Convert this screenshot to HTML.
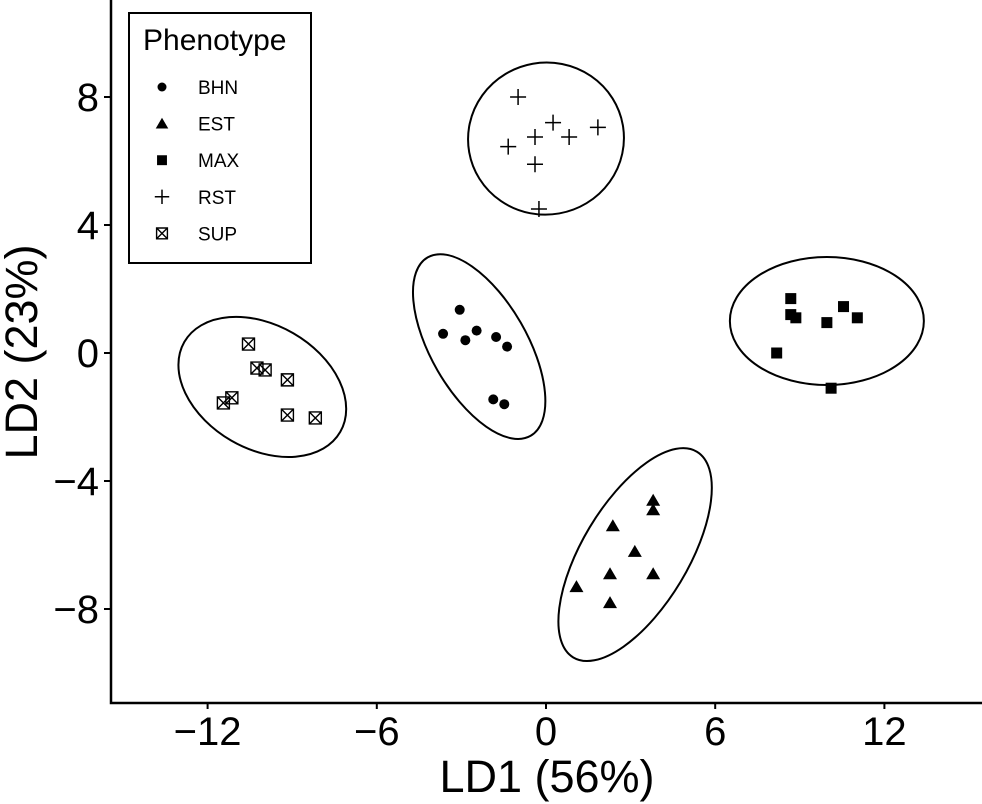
<!DOCTYPE html>
<html><head><meta charset="utf-8"><style>body{margin:0;background:#fff}svg{display:block;font-family:"Liberation Sans",sans-serif}</style></head>
<body>
<svg id="c" width="982" height="804" xmlns="http://www.w3.org/2000/svg"></svg>
<script>
const groups=["BHN","EST","MAX","RST","SUP"];
const bhnX=[-3.06,-3.65,-2.86,-2.46,-1.77,-1.38,-1.87,-1.48];
const bhnY=[1.35,0.6,0.4,0.7,0.5,0.2,-1.45,-1.6];
const estX=[1.08,2.37,2.27,2.27,3.15,3.8,3.8,3.8];
const estY=[-7.3,-5.4,-6.9,-7.8,-6.2,-4.6,-4.9,-6.9];
const maxX=[8.18,8.68,8.68,8.86,9.96,10.55,11.04,10.11];
const maxY=[0.0,1.7,1.2,1.1,0.95,1.45,1.1,-1.1];
const rstX=[-0.99,-1.34,-0.39,-0.39,0.25,0.82,1.84,-0.25];
const rstY=[8.0,6.45,6.75,5.9,7.2,6.75,7.05,4.5];
const supX=[-10.55,-10.25,-9.96,-9.17,-11.14,-11.44,-9.17,-8.18];
const supY=[0.28,-0.47,-0.53,-0.84,-1.4,-1.56,-1.94,-2.03];
const ellCx=[-2.37,3.16,9.96,0,-10.06];
const ellCy=[0.2,-6.3,1.0,6.7,-1.06];
const ellRx=[103,120,97,78,90];
const ellRy=[48,53,64,76,62];
const ellAngle=[60,-59,0,-10,30];
const xTicks=[-12,-6,0,6,12];
const yTicks=[-8,-4,0,4,8];
const ns="http://www.w3.org/2000/svg",svg=document.getElementById('c');
const X=v=>546+v*28.2, Y=v=>353-v*32;
function mk(t,a,p){const e=document.createElementNS(ns,t);for(const k in a)e.setAttribute(k,a[k]);(p||svg).appendChild(e);return e;}
const seriesX=[bhnX,estX,maxX,rstX,supX],seriesY=[bhnY,estY,maxY,rstY,supY];
function sym(g,cx,cy,s,name){
  let e;
  if(g==0)e=mk('circle',{cx,cy,r:5*s,fill:'#000'});
  else if(g==1)e=mk('polygon',{points:`${cx},${cy-6.5*s} ${cx+7*s},${cy+5.5*s} ${cx-7*s},${cy+5.5*s}`,fill:'#000'});
  else if(g==2)e=mk('rect',{x:cx-5.5*s,y:cy-5.5*s,width:11*s,height:11*s,fill:'#000'});
  else if(g==3)e=mk('path',{d:`M${cx-8*s},${cy}H${cx+8*s}M${cx},${cy-8*s}V${cy+8*s}`,stroke:'#000','stroke-width':1.5,fill:'none'});
  else e=mk('path',{d:`M${cx-6*s},${cy-6*s}h${12*s}v${12*s}h${-12*s}zM${cx-6*s},${cy-6*s}l${12*s},${12*s}M${cx+6*s},${cy-6*s}l${-12*s},${12*s}`,stroke:'#000','stroke-width':1.4,fill:'none'});
  
  
}
groups.forEach((g,i)=>{
  const el=mk('ellipse',{cx:0,cy:0,rx:ellRx[i],ry:ellRy[i],fill:'none',stroke:'#000','stroke-width':2,transform:`translate(${X(ellCx[i])},${Y(ellCy[i])}) rotate(${ellAngle[i]})`});
  
  
  seriesX[i].forEach((v,j)=>sym(i,X(v),Y(seriesY[i][j]),1,'point-'+g.toLowerCase()));
});
let ax=mk('path',{d:'M111,0V703H982',stroke:'#000','stroke-width':2.5,fill:'none'});


xTicks.forEach(v=>{
  const t=mk('line',{x1:X(v),x2:X(v),y1:703,y2:709,stroke:'#000','stroke-width':2});
  
  
  const l=mk('text',{x:X(v),y:745,'text-anchor':'middle','font-size':40,fill:'#000'});l.textContent=(v<0?'\u2212':'')+Math.abs(v);
  
  
});
yTicks.forEach(v=>{
  const t=mk('line',{x1:104,x2:111,y1:Y(v),y2:Y(v),stroke:'#000','stroke-width':2});
  
  
  const l=mk('text',{x:99,y:Y(v)+14,'text-anchor':'end','font-size':40,fill:'#000'});l.textContent=(v<0?'\u2212':'')+Math.abs(v);
  
  
});
let xt=mk('text',{x:547,y:792,'text-anchor':'middle','font-size':45});xt.textContent='LD1 (56%)';


let yt=mk('text',{x:0,y:0,'text-anchor':'middle','font-size':45,transform:'translate(37,352) rotate(-90)'});yt.textContent='LD2 (23%)';


const lg=mk('g',{});


mk('rect',{x:129,y:13,width:182,height:250,fill:'#fff',stroke:'#000','stroke-width':2},lg);
let lt=mk('text',{x:143,y:50,'font-size':30},lg);lt.textContent='Phenotype';


groups.forEach((g,i)=>{
  const cy=87+i*36.6;
  sym(i,162,cy,0.9,'legend-symbol-'+g.toLowerCase());
  const t=mk('text',{x:198,y:cy+7,'font-size':19},lg);t.textContent=g;
  
  
});
</script>
</body></html>
